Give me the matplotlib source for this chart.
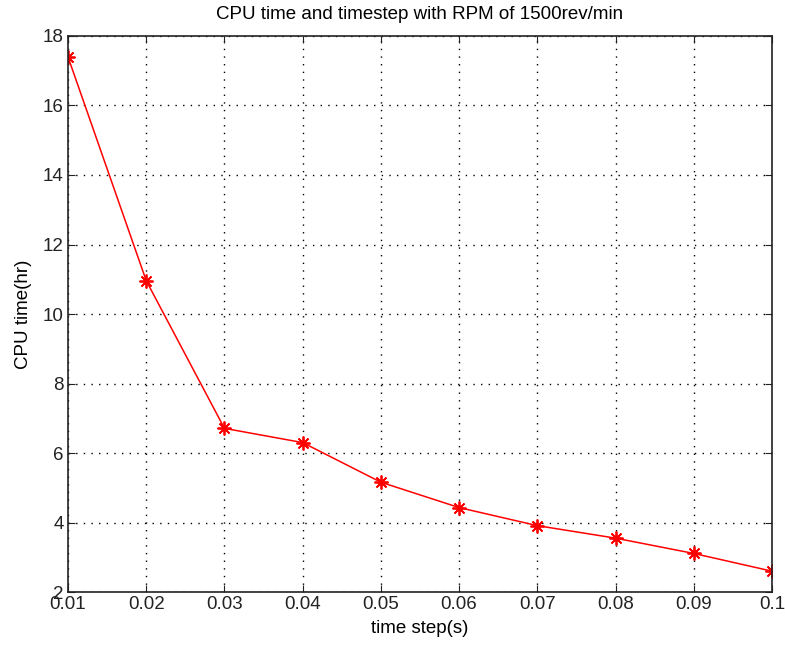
import matplotlib.pyplot as plt

plt.rcParams['font.family'] = ['Liberation Sans', 'DejaVu Sans']

# data
time_step = [0.01, 0.02, 0.03, 0.04, 0.05, 0.06, 0.07, 0.08, 0.09, 0.1]
cpu_time = [17.4, 10.96, 6.71, 6.3, 5.16, 4.43, 3.91, 3.55, 3.11, 2.6]
xtick_labels = ["0.01", "0.02", "0.03", "0.04", "0.05", "0.06", "0.07", "0.08", "0.09", "0.1"]

fig = plt.figure(figsize=(7.85, 6.52), dpi=100)
ax = fig.add_axes([0.0866, 0.092, 0.8968, 0.8528])

# matlab-style asterisk marker (plus + cross)
ax.plot(time_step, cpu_time, color="red", lw=1.1, marker=(8, 2, 0), ms=10, mew=1.3)

ax.set_xlim(0.01, 0.1)
ax.set_ylim(2, 18)
ax.set_xticks(time_step)
ax.set_xticklabels(xtick_labels)
ax.set_yticks(range(2, 19, 2))

ax.grid(True, color="black", linestyle=(0, (1, 4.5)), linewidth=1.0)
ax.tick_params(direction="in", top=True, right=True, length=5, labelsize=13.5,
               colors="#222222", pad=3)
for s in ax.spines.values():
    s.set_linewidth(1.2)
    s.set_color("#222222")

ax.set_title("CPU time and timestep with RPM of 1500rev/min", fontsize=13.5, pad=12)
ax.set_xlabel("time step(s)", fontsize=13.5, labelpad=5)
ax.set_ylabel("CPU time(hr)", fontsize=13.5, labelpad=8)

plt.savefig("out.png", dpi=100)
